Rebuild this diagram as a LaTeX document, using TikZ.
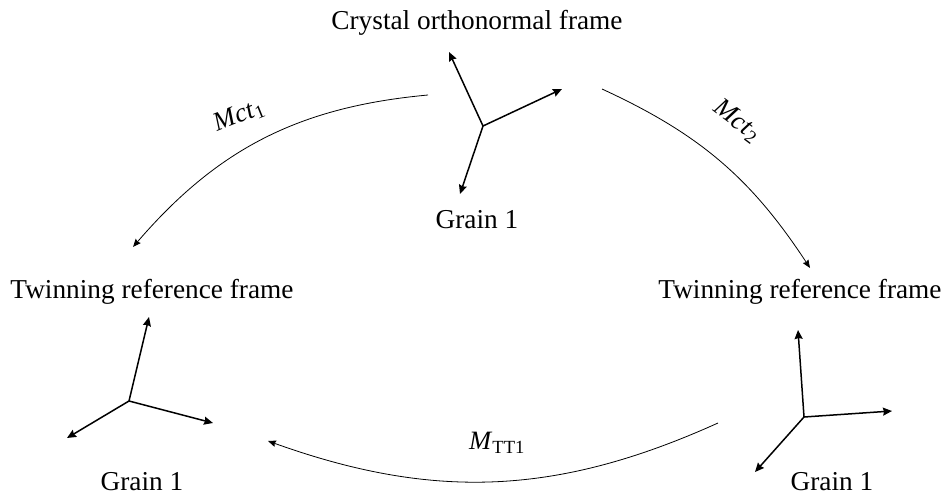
\documentclass[tikz,border=0pt]{standalone}
\usepackage{fontspec}
\setmainfont{Liberation Serif}
\usetikzlibrary{arrows.meta}
\begin{document}
\begin{tikzpicture}[x=1pt,y=-1pt,
  lbl/.style={font=\fontsize{27.3}{30}\selectfont, inner sep=0pt, anchor=base},
  mlbl/.style={font=\fontsize{26.5}{30}\selectfont, inner sep=0pt},
  axis/.style={line width=1.5pt, -{Stealth[length=9pt,width=8pt,inset=1pt]}},
  mapar/.style={line width=0.8pt, -{Stealth[length=8pt,width=6.5pt,inset=1pt]}}]
\useasboundingbox (0,0) rectangle (949,497);
% texts
\node[lbl] (crys) at (477,30) {Crystal orthonormal frame};
\node[lbl] (g0) at (477,228) {Grain 1};
\node[lbl] (twL) at (152,298) {Twinning reference frame};
\node[lbl] (twR) at (800,298) {Twinning reference frame};
\node[lbl] (gL) at (142,490) {Grain 1};
\node[lbl] (gR) at (832,490) {Grain 1};
% top frame
\coordinate (o0) at (483,126);
\coordinate (a0) at (449,52);
\coordinate (b0) at (562,89);
\coordinate (c0) at (460,194);
\draw[axis] (o0) -- (a0);
\draw[axis] (o0) -- (b0);
\draw[axis] (o0) -- (c0);
% left frame
\coordinate (oL) at (129,401);
\coordinate (aL) at (149,317);
\coordinate (bL) at (213,423);
\coordinate (cL) at (67,438);
\draw[axis] (oL) -- (aL);
\draw[axis] (oL) -- (bL);
\draw[axis] (oL) -- (cL);
% right frame
\coordinate (oR) at (804,417);
\coordinate (aR) at (798,330);
\coordinate (bR) at (892,411);
\coordinate (cR) at (755,472);
\draw[axis] (oR) -- (aR);
\draw[axis] (oR) -- (bR);
\draw[axis] (oR) -- (cR);
% mapping arrows
\coordinate (s1) at (428,95);
\coordinate (e1) at (133,247);
\coordinate (s2) at (602,89);
\coordinate (e2) at (810,268);
\coordinate (s3) at (718,423);
\coordinate (e3) at (268,441);
\draw[mapar] (s1) to[bend right=22] (e1);
\draw[mapar] (s2) to[bend left=16] (e2);
\draw[mapar] (s3) to[bend left=22] (e3);
\node[mlbl, rotate=22] (m1) at (239,116) {\textit{Mct}\textsubscript{1}};
\node[mlbl, rotate=-37] (m2) at (737,121) {\textit{Mct}\textsubscript{2}};
\node[mlbl] (m3) at (497,443) {\textit{M}\textsubscript{TT1}};
\end{tikzpicture}
\end{document}
